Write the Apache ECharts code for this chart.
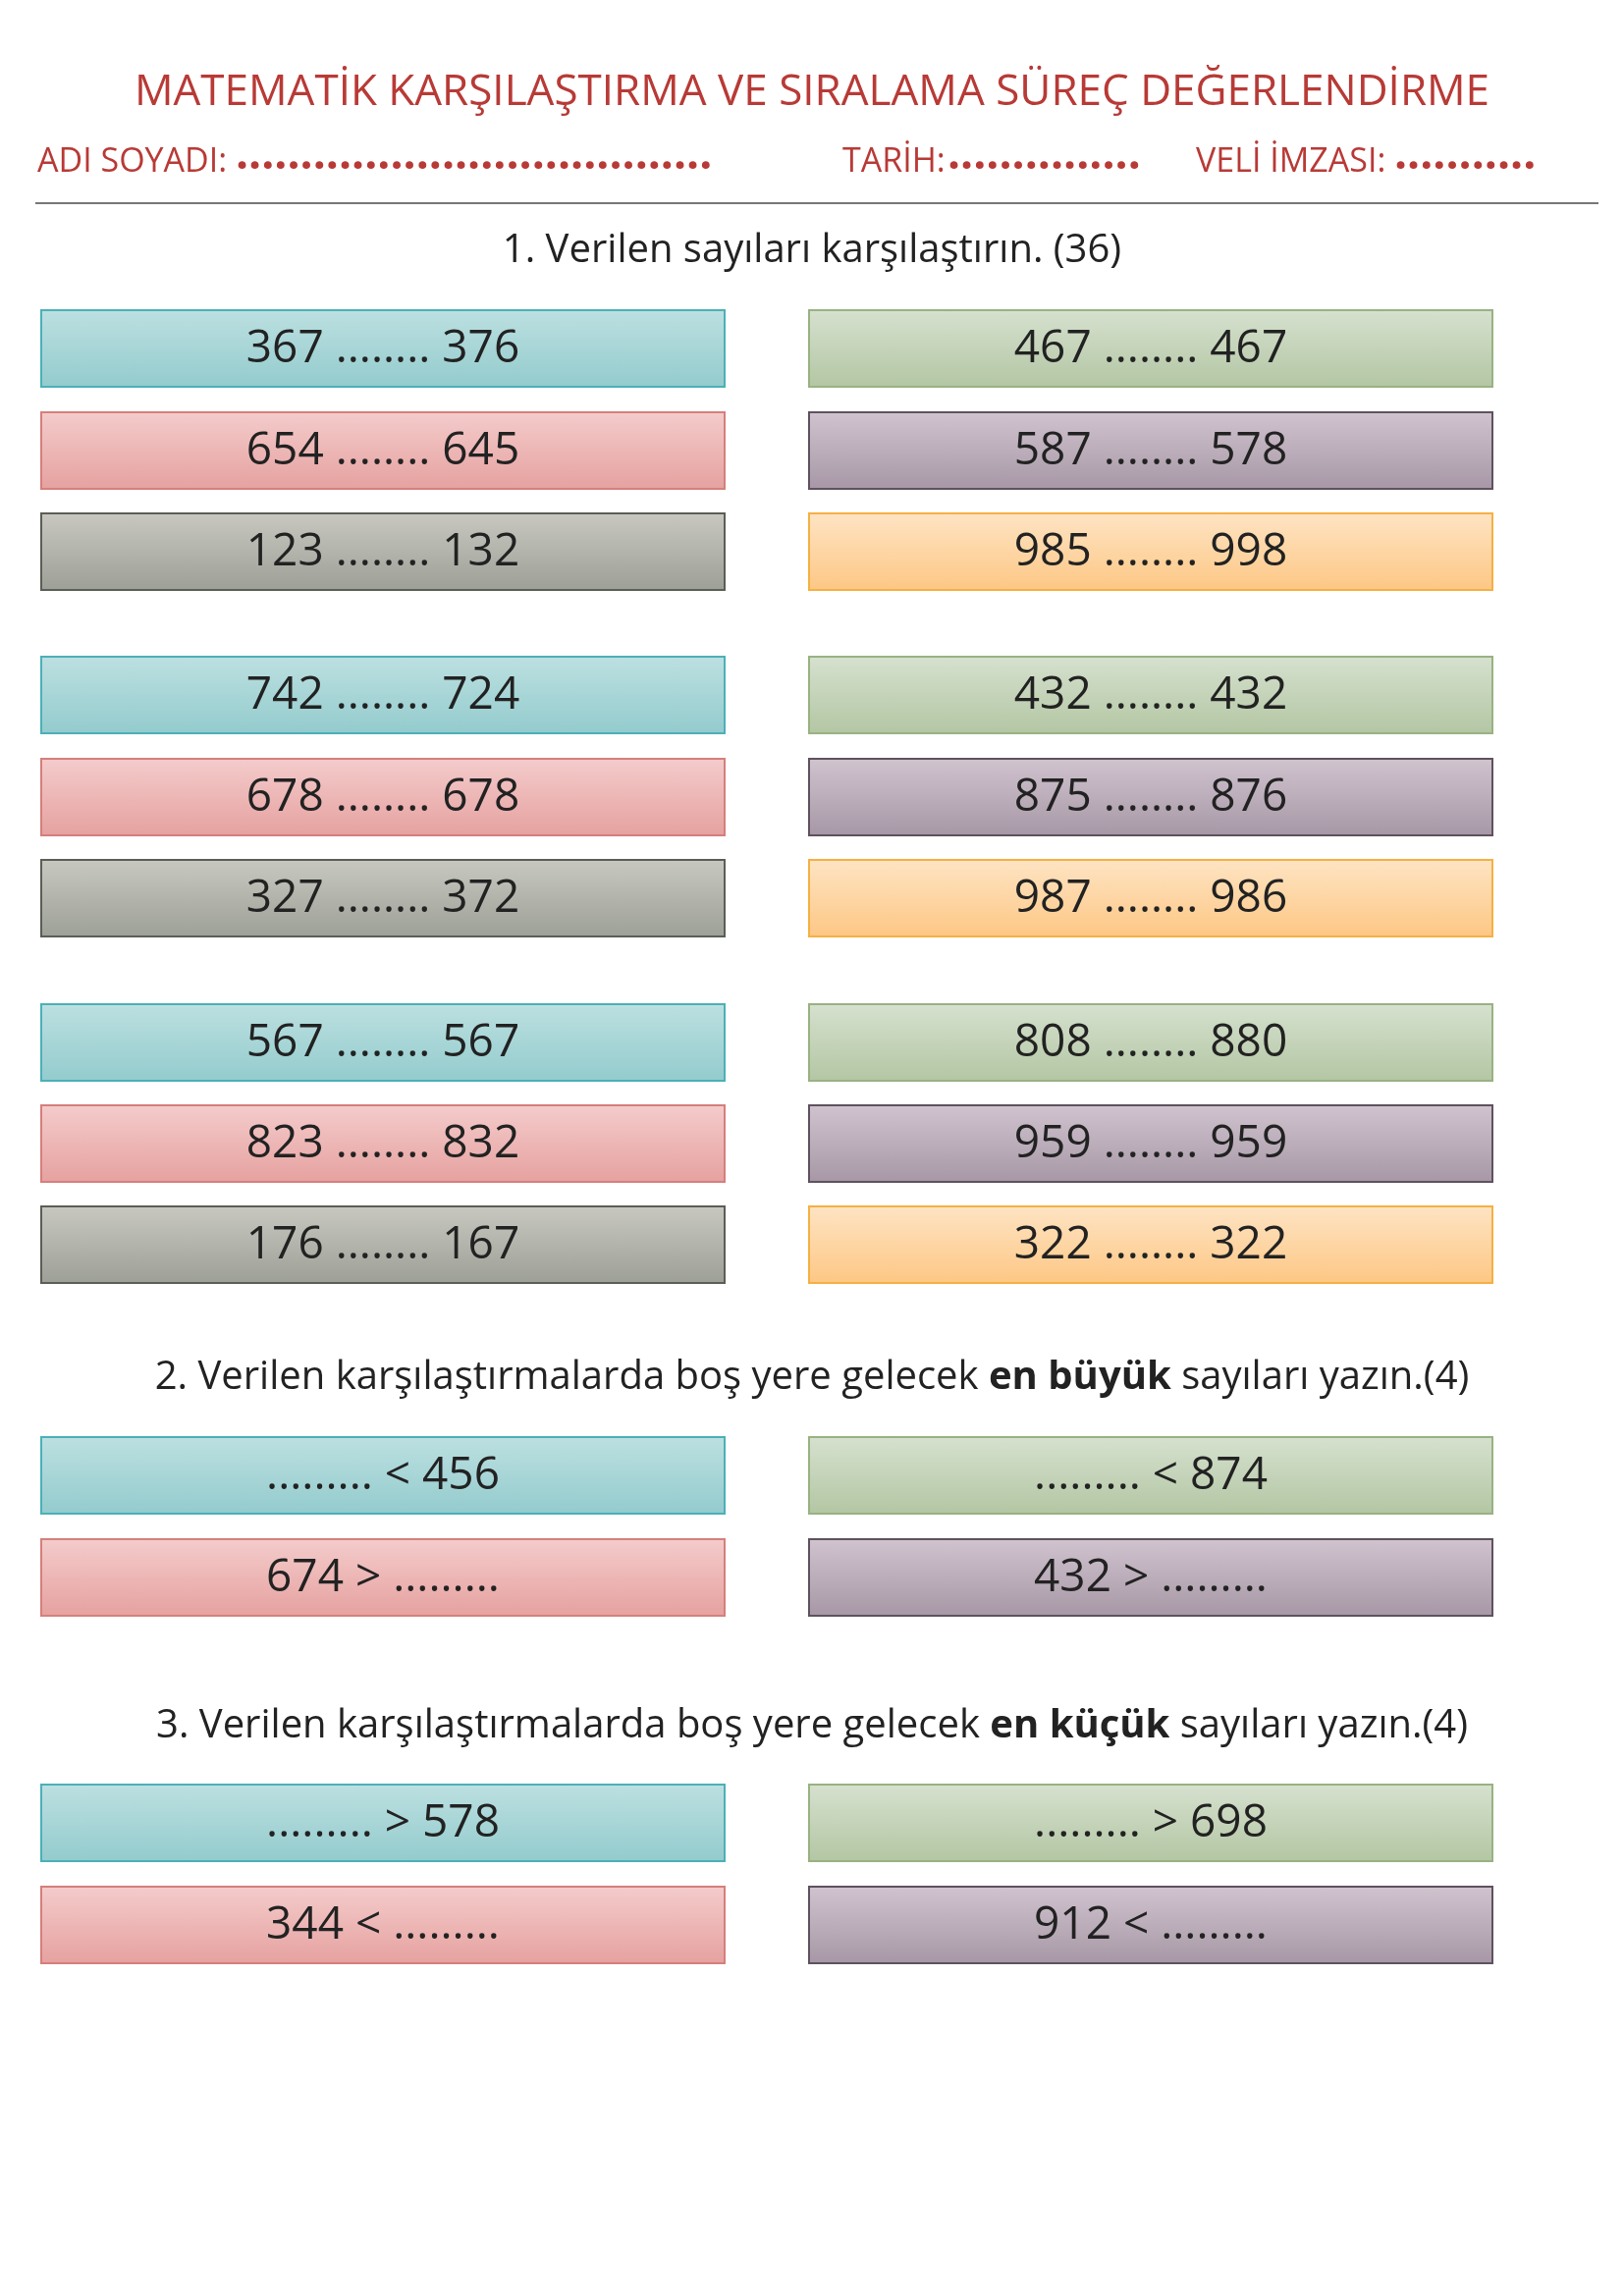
<!DOCTYPE html><html><head><meta charset="utf-8">
<script src="https://cdn.jsdelivr.net/npm/echarts@6/dist/echarts.min.js"></script>
<style>html,body{margin:0;background:#fff}#c{width:1654px;height:2339px}</style></head><body><div id="c"></div>
<script>
const title = "MATEMATİK KARŞILAŞTIRMA VE SIRALAMA SÜREÇ DEĞERLENDİRME";
const headerLabels = ["ADI SOYADI:", "TARİH:", "VELİ İMZASI:"];
const headerDots = [".....................................", "...............", "..........."];
const sectionTitles = ["1. Verilen sayıları karşılaştırın. (36)", "2. Verilen karşılaştırmalarda boş yere gelecek ", "3. Verilen karşılaştırmalarda boş yere gelecek "];
const sectionBold = ["", "en büyük", "en küçük"];
const sectionTail = ["", " sayıları yazın.(4)", " sayıları yazın.(4)"];
const leftItems1 = ["367 ........ 376","654 ........ 645","123 ........ 132","742 ........ 724","678 ........ 678","327 ........ 372","567 ........ 567","823 ........ 832","176 ........ 167"];
const rightItems1 = ["467 ........ 467","587 ........ 578","985 ........ 998","432 ........ 432","875 ........ 876","987 ........ 986","808 ........ 880","959 ........ 959","322 ........ 322"];
const leftItems2 = ["......... < 456","674 > ........."];
const rightItems2 = ["......... < 874","432 > ........."];
const leftItems3 = ["......... > 578","344 < ........."];
const rightItems3 = ["......... > 698","912 < ........."];
const palettes = {
 teal:['#bde0e1','#93cbcd','#4bb0b8'], red:['#f4cccc','#e5a19f','#d57f7c'], gray:['#c8c8c0','#9da097','#5b5d57'],
 green:['#d6e1cf','#b3c6a3','#98b282'], purple:['#d0c4cf','#a797a6','#5e525e'], orange:['#fee4c4','#fdc784','#f5b043']
};
const leftCols=['teal','red','gray'], rightCols=['green','purple','orange'];
const FONT='"Open Sans", Lato, sans-serif';
const g=[];
g.push({type:'text',left:'center',top:72,style:{text:title,font:'44px '+FONT,fill:'#b83a36'}});
const hx=[38,858,1218], hEnd=[858,1218,1625];
headerLabels.forEach((lab,i)=>{
 g.push({type:'text',x:hx[i],y:148,style:{text:lab,font:'34px '+FONT,fill:'#b83a36'}});
});
// dots spanning
const dotStart=[240,965,1420];
headerDots.forEach((d,i)=>{
 g.push({type:'text',x:dotStart[i],y:136,style:{text:d,font:'bold 46px '+FONT,fill:'#b83a36',width:hEnd[i]-dotStart[i],overflow:'truncate'}});
});
g.push({type:'line',shape:{x1:36,y1:207,x2:1628,y2:207},style:{stroke:'#777',lineWidth:2}});
function box(x,y,txt,col){
 const p=palettes[col];
 g.push({type:'rect',shape:{x:x,y:y,width:696,height:78},style:{fill:new echarts.graphic.LinearGradient(0,0,0,1,[{offset:0,color:p[0]},{offset:1,color:p[1]}]),stroke:p[2],lineWidth:2}});
 g.push({type:'text',x:x+348,y:y+40,style:{text:txt,font:'46px '+FONT,fill:'#222',align:'center',verticalAlign:'middle'}});
}
function section(i,y){
 const a=sectionTitles[i], b=sectionBold[i], c=sectionTail[i];
 g.push({type:'text',left:'center',top:y-26,style:{rich:{n:{font:'40px '+FONT,fill:'#222'},b:{font:'bold 40px '+FONT,fill:'#222',borderColor:'#222',borderWidth:0}},text:'{n|'+a+'}'+(b?'{b|'+b+'}{n|'+c+'}':'')}});
}
section(0,262);
const rows1=[316,420,523,669,773,876,1023,1126,1229];
rows1.forEach((y,i)=>{box(42,y,leftItems1[i],leftCols[i%3]);box(824,y,rightItems1[i],rightCols[i%3]);});
section(1,1410);
[1464,1568].forEach((y,i)=>{box(42,y,leftItems2[i],leftCols[i]);box(824,y,rightItems2[i],rightCols[i]);});
section(2,1765);
[1818,1922].forEach((y,i)=>{box(42,y,leftItems3[i],leftCols[i]);box(824,y,rightItems3[i],rightCols[i]);});
const ch=echarts.init(document.getElementById('c'));
ch.setOption({graphic:g});
</script></body></html>
